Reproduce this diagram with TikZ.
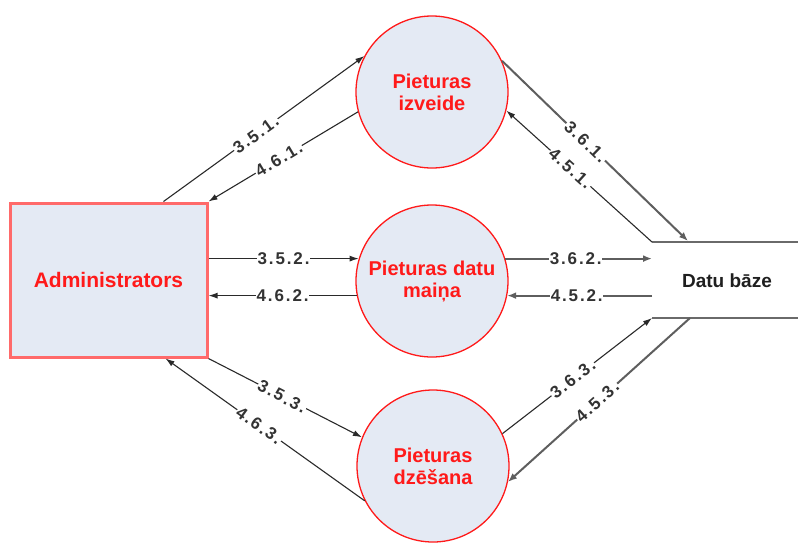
\documentclass[tikz,border=0pt]{standalone}
\usepackage{fontspec}
\setmainfont{Liberation Sans}
\usetikzlibrary{arrows.meta,calc}

\definecolor{procfill}{HTML}{E4EAF4}
\definecolor{procred}{HTML}{FF1A1A}
\definecolor{entred}{HTML}{FF6A6A}
\definecolor{flowdark}{HTML}{2A2A2A}
\definecolor{flowgray}{HTML}{5E5E5E}
\definecolor{storegray}{HTML}{6A6A6A}

\tikzset{
  process/.style={circle, draw=procred, line width=1.3pt, fill=procfill,
    minimum size=152pt, inner sep=0pt, align=center, text=procred,
    font=\fontsize{20}{22}\selectfont\bfseries},
  entity/.style={rectangle, draw=entred, line width=3pt, fill=procfill,
    minimum width=197pt, minimum height=154pt, inner sep=0pt, text=procred,
    font=\fontsize{21}{23}\selectfont\bfseries},
  storeline/.style={draw=storegray, line width=2.6pt},
  storetext/.style={text=black!88, font=\fontsize{19}{21}\selectfont\bfseries},
  flow/.style={draw=flowdark, line width=1.1pt, -{Latex[length=9pt,width=6pt]}},
  flowg/.style={draw=flowgray, line width=2pt, -{Latex[length=9pt,width=7pt]}},
  lbl/.style={sloped, fill=white, inner sep=0.8pt, text=black!80,
    font=\fontsize{17}{17}\selectfont\bfseries\addfontfeatures{LetterSpace=11}},
}

\begin{document}
\begin{tikzpicture}[x=1pt, y=-1pt]
  \useasboundingbox (0,0) rectangle (798,542);

  % external entity and processes
  \node[entity]  (adm) at (108.5,280) {Administrators};
  \node[process] (c1)  at (432,92)  {Pieturas\\izveide};
  \node[process] (c2)  at (432,281) {Pieturas datu\\maiņa};
  \node[process] (c3)  at (433,466) {Pieturas\\dzēšana};

  % open-ended data store
  \coordinate (dbtop) at (652,242);
  \coordinate (dbtopend) at (798,242);
  \coordinate (dbbot) at (652,318);
  \coordinate (dbbotend) at (798,318);
  \draw[storeline] (dbtop) -- (dbtopend);
  \draw[storeline] (dbbot) -- (dbbotend);
  \node[storetext] (db) at (727,281) {Datu bāze};
  \coordinate (db361) at (688,241);
  \coordinate (db453) at (690,318);

  % flows between the administrator and the processes
  \draw[flow] ($(adm.north)+(55,0)$) -- node[lbl,pos=0.46] {3.5.1.} (c1.152);
  \draw[flow] (c1.195) -- node[lbl,pos=0.53] {4.6.1.} (adm.north east);
  \draw[flow] (adm.east |- c2.163) -- node[lbl,pos=0.5] {3.5.2.} (c2.163);
  \draw[flow] (c2.191) -- node[lbl,pos=0.5] {4.6.2.} (adm.east |- c2.191);
  \draw[flow] (adm.south east) -- node[lbl,pos=0.48] {3.5.3.} (c3.158);
  \draw[flow] (c3.207) -- node[lbl,pos=0.53] {4.6.3.} ($(adm.south)+(57,0)$);

  % flows between the processes and the data store
  \draw[flowg] (c1.24) -- node[lbl,pos=0.45] {3.6.1.} (db361);
  \draw[flow]  (dbtop) -- node[lbl,pos=0.56] {4.5.1.} (c1.346);
  \draw[flowg] (c2.17) -- node[lbl,pos=0.48] {3.6.2.} (c2.17 -| dbtop);
  \draw[flowg] (c2.349 -| dbtop) -- node[lbl,pos=0.52] {4.5.2.} (c2.349);
  \draw[flow]  (c3.25.5) -- node[lbl,pos=0.47] {3.6.3.} (dbbot);
  \draw[flowg] (db453) -- node[lbl,pos=0.51] {4.5.3.} (c3.348);
\end{tikzpicture}
\end{document}
